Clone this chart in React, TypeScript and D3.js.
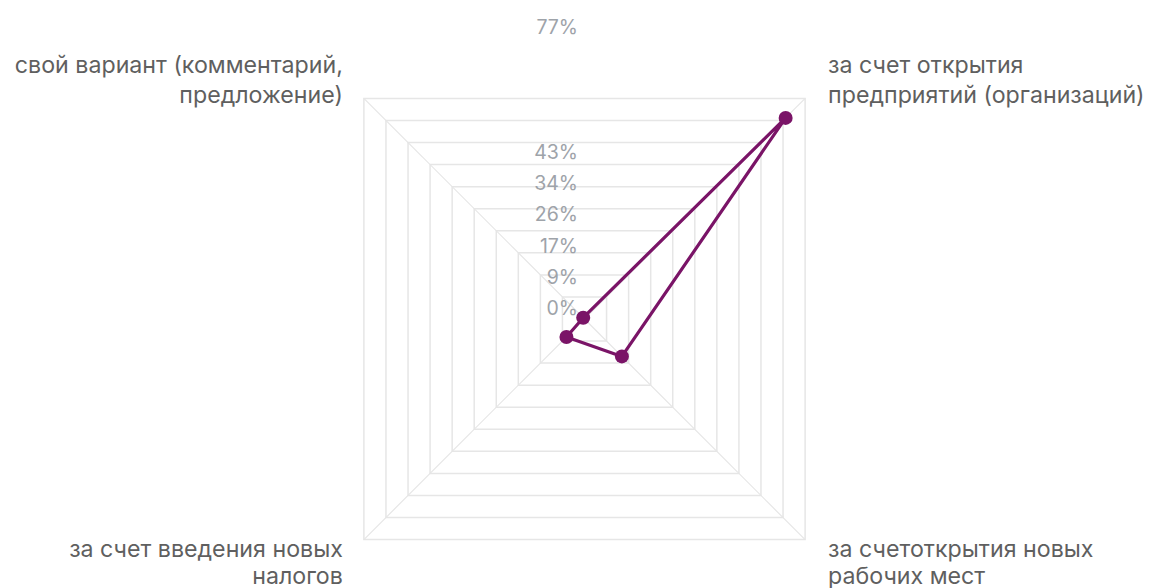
import React from "react";
import * as d3 from "d3";

const categories: string[][] = [
  ["за счет открытия", "предприятий (организаций)"],
  ["за счетоткрытия новых", "рабочих мест"],
  ["за счет введения новых", "налогов"],
  ["свой вариант (комментарий,", "предложение)"],
];
const values: number[] = [78, 14.5, 7, 0.5];
const tickValues: number[] = [0, 8.556, 17.11, 25.67, 34.22, 42.78, 51.33, 59.89, 68.44, 77, 85.56];
const tickLabels: string[] = ["0%", "9%", "17%", "26%", "34%", "43%", "", "", "", "77%", ""];

const W = 1149;
const H = 588;
const cx = 584.5;
const cy = 319;
const R = 312;
const gridColor = "#e6e6e6";
const lineColor = "#7a1467";
const font = "Inter, 'Noto Sans', sans-serif";

export default function App() {
  const n = categories.length;
  const maxV = tickValues[tickValues.length - 1];
  const rScale = d3.scaleLinear().domain([0, maxV]).range([0, R]);
  const angle = (i: number) => Math.PI / 4 + (i * 2 * Math.PI) / n;
  const pt = (i: number, r: number): [number, number] => [
    cx + r * Math.sin(angle(i)),
    cy - r * Math.cos(angle(i)),
  ];

  const radial = d3
    .lineRadial<number>()
    .angle((_, i) => angle(i))
    .radius((d) => rScale(d))
    .curve(d3.curveLinearClosed);

  const rings = tickValues.slice(1).map((t) => d3.range(n).map(() => t));

  const labelPos = (i: number) => {
    const [x, y] = pt(i, R);
    const right = Math.sin(angle(i)) > 0;
    const top = Math.cos(angle(i)) > 0;
    return {
      x: right ? x + 23 : x - 21,
      y0: top ? y - 33 : y + 9,
      gap: top ? 30 : 27,
      anchor: right ? "start" : "end",
    };
  };

  return (
    <svg width={W} height={H} style={{ position: "absolute", left: 0, top: 0, background: "#fff" }}>
      <g transform={`translate(${cx},${cy})`}>
        {rings.map((ring, k) => (
          <path key={k} d={radial(ring) || ""} fill="none" stroke={gridColor} strokeWidth={1.5} />
        ))}
      </g>
      {d3.range(n).map((i) => {
        const [x, y] = pt(i, R);
        return <line key={i} x1={cx} y1={cy} x2={x} y2={y} stroke={gridColor} strokeWidth={1.2} />;
      })}
      {tickValues.map((t, k) =>
        tickLabels[k] ? (
          <text
            key={k}
            x={578}
            y={cy - rScale(t) - 11}
            textAnchor="end"
            dominantBaseline="central"
            fontFamily={font}
            fontSize={19.5}
            fill="#9ea3a9"
          >
            {tickLabels[k]}
          </text>
        ) : null
      )}
      <g transform={`translate(${cx},${cy})`}>
        <path d={radial(values) || ""} fill="none" stroke={lineColor} strokeWidth={3.2} strokeLinejoin="round" />
      </g>
      {values.map((v, i) => {
        const [x, y] = pt(i, rScale(v));
        return <circle key={i} cx={x} cy={y} r={7} fill={lineColor} />;
      })}
      {categories.map((lines, i) => {
        const p = labelPos(i);
        return (
          <text key={i} textAnchor={p.anchor as any} fontFamily={font} fontSize={23.2} fill="#5f5f5f">
            {lines.map((l, j) => (
              <tspan key={j} x={p.x} y={p.y0 + j * p.gap} dominantBaseline="central">
                {l}
              </tspan>
            ))}
          </text>
        );
      })}
    </svg>
  );
}
